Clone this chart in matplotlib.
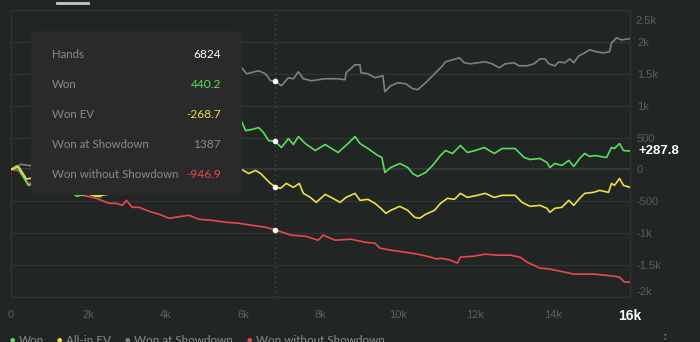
import matplotlib
matplotlib.use("Agg")
import matplotlib.pyplot as plt
from matplotlib.patches import FancyBboxPatch
from matplotlib.lines import Line2D

# ---- data (hands, cumulative winnings) ----
hands_sd = [0, 250, 500, 1000, 1500, 2000, 2500, 3000, 3500, 4000, 4500, 5000, 5500, 5900,
            5962, 6091, 6399, 6579, 6708, 6824, 6990, 7170, 7299, 7427, 7556, 7761, 8121, 8455,
            8635, 8661, 8892, 9021, 9046, 9226, 9406, 9612, 9663, 9817, 9997, 10203, 10383,
            10511, 10717, 10974, 11025, 11154, 11231, 11411, 11590, 11719, 11873, 12053, 12259,
            12439, 12619, 12773, 13004, 13133, 13338, 13518, 13672, 13801, 13904, 14058, 14161,
            14315, 14443, 14546, 14675, 14829, 14957, 15137, 15317, 15471, 15523, 15651, 15780, 16000]
won_sd = [0, 80, 60, 250, 380, 520, 650, 820, 950, 1100, 1230, 1380, 1500, 1560,
          1598, 1500, 1547, 1500, 1391, 1387, 1313, 1438, 1422, 1531, 1422, 1391, 1422, 1422,
          1406, 1516, 1641, 1641, 1516, 1500, 1438, 1469, 1219, 1313, 1359, 1344, 1266,
          1250, 1359, 1516, 1547, 1625, 1688, 1719, 1750, 1672, 1656, 1672, 1688,
          1656, 1594, 1656, 1672, 1625, 1625, 1656, 1734, 1734, 1656, 1625, 1688,
          1672, 1734, 1672, 1781, 1828, 1875, 1844, 1828, 1844, 1984, 2063, 2031, 2050]

hands_won = [0, 150, 300, 450, 700, 1000, 1300, 1700, 2000, 2300, 2600, 3000, 3500, 4000,
             4500, 5000, 5500, 5900, 5962, 6065, 6219, 6399, 6528, 6656, 6824, 6990, 7170,
             7299, 7427, 7607, 7864, 8121, 8455, 8712, 8892, 9021, 9226, 9483, 9586, 9663,
             9817, 10049, 10254, 10383, 10511, 10717, 10897, 11000, 11102, 11231, 11411,
             11616, 11796, 12002, 12233, 12490, 12696, 13030, 13261, 13415, 13672, 13852,
             13929, 14058, 14238, 14418, 14546, 14700, 14829, 14957, 15086, 15394, 15523,
             15600, 15728, 15831, 16000]
won = [0, 60, -100, -250, -200, -300, -250, -420, -380, -430, -300, -100, 100, 250,
       350, 500, 620, 700, 750, 609, 625, 656, 578, 453, 440.2, 344, 484,
       391, 516, 406, 297, 391, 266, 406, 516, 406, 328, 219, 188, -47,
       31, 94, 31, -63, -109, -47, 63, 141, 219, 297, 250,
       375, 266, 297, 344, 250, 328, 328, 188, 156, 172, 109,
       31, 94, 63, 141, 47, 172, 250, 203, 219, 188, 344,
       328, 406, 297, 287.8]

hands_ev = [0, 200, 400, 700, 1000, 1400, 1800, 2200, 2600, 3000, 3500, 4000, 4500, 5000,
            5500, 5900, 5962, 6142, 6322, 6451, 6579, 6708, 6824, 6965, 7119, 7299, 7453,
            7556, 7736, 7890, 8121, 8275, 8507, 8661, 8892, 9021, 9226, 9406, 9560, 9689,
            9817, 10049, 10254, 10434, 10563, 10717, 10948, 11102, 11282, 11462, 11616,
            11796, 12053, 12259, 12490, 12696, 13030, 13210, 13415, 13672, 13852, 13929,
            14058, 14238, 14418, 14546, 14700, 14829, 15060, 15214, 15446, 15523, 15600,
            15728, 15831, 16000]
won_ev = [0, 40, -150, -120, -200, -250, -350, -420, -380, -330, -280, -200, -150, -80,
          -30, 10, 0, -63, -16, -63, -141, -219, -268.7, -297, -219, -281, -219,
          -375, -438, -516, -391, -438, -516, -438, -375, -484, -469, -531, -609, -688,
          -641, -578, -641, -750, -766, -703, -641, -531, -453, -469, -375,
          -438, -406, -375, -438, -406, -406, -516, -578, -563, -609, -672,
          -609, -594, -484, -563, -453, -375, -359, -328, -359, -219, -250,
          -141, -250, -281]

hands_nsd = [0, 200, 450, 700, 1000, 1400, 1800, 2200, 2467, 2544, 2724, 2878, 2981, 3135,
             3315, 3572, 3829, 4086, 4420, 4600, 4857, 5191, 5551, 5885, 6219, 6579, 6824,
             7247, 7607, 7941, 8070, 8378, 8789, 9149, 9406, 9535, 9817, 10177, 10511, 10845,
             11025, 11102, 11359, 11539, 11616, 11976, 12259, 12567, 12901, 13158, 13338,
             13672, 13929, 14186, 14546, 14803, 15060, 15317, 15574, 15728, 15857, 16000]
won_nsd = [0, -20, -220, -200, -280, -350, -400, -450, -516, -531, -531, -563, -484, -594,
           -594, -656, -703, -766, -734, -719, -781, -797, -828, -844, -875, -906, -946.9,
           -1031, -1047, -1109, -1031, -1109, -1094, -1141, -1156, -1234, -1266, -1297, -1328, -1375,
           -1406, -1391, -1422, -1469, -1375, -1359, -1328, -1344, -1344, -1375, -1453,
           -1547, -1563, -1594, -1641, -1641, -1641, -1656, -1672, -1688, -1766, -1766]

hover_hand = 6824
tooltip_rows = [("Hands", "6824"), ("Won", "440.2"), ("Won EV", "-268.7"),
                ("Won at Showdown", "1387"), ("Won without Showdown", "-946.9")]
y_ticks = [-2000, -1500, -1000, -500, 0, 500, 1000, 1500, 2000, 2500]
y_labels = ["-2k", "-1.5k", "-1k", "-500", "0", "500", "1k", "1.5k", "2k", "2.5k"]
x_ticks = [0, 2000, 4000, 6000, 8000, 10000, 12000, 14000, 16000]
x_labels = ["0", "2k", "4k", "6k", "8k", "10k", "12k", "14k", "16k"]
legend_names = ["Won", "All-in EV", "Won at Showdown", "Won without Showdown"]

BG = "#212524"
GRID = "#303534"
C_WON = "#58e158"
C_EV = "#ede045"
C_SD = "#808080"
C_NSD = "#e64a4a"
TXT = "#5b605f"

W, H = 700, 342
fig = plt.figure(figsize=(W / 100, H / 100), dpi=100, facecolor=BG)
ax = fig.add_axes([11 / W, 1 - 297 / H, 619 / W, 287 / H])
ax.set_facecolor(BG)

ax.plot(hands_sd, won_sd, color=C_SD, lw=1.2, zorder=3)
ax.plot(hands_won, won, color=C_WON, lw=1.2, zorder=4)
ax.plot(hands_ev, won_ev, color=C_EV, lw=1.2, zorder=4)
ax.plot(hands_nsd, won_nsd, color=C_NSD, lw=1.2, zorder=3)

# hover markers
for hs, vs in [(hands_sd, won_sd), (hands_won, won), (hands_ev, won_ev), (hands_nsd, won_nsd)]:
    v = vs[hs.index(hover_hand)]
    ax.plot([hover_hand], [v], "o", color="white", ms=4, mec="none", zorder=6)
ax.axvline(hover_hand, color="#4a4f4e", lw=1, ls=(0, (1, 2.5)), zorder=2)

ax.set_xlim(0, 16000)
ax.set_ylim(-2000, 2500)
ax.set_yticks(y_ticks)
ax.set_yticklabels(y_labels)
ax.set_xticks(x_ticks)
ax.set_xticklabels(x_labels)
ax.yaxis.tick_right()
ax.tick_params(length=0, colors=TXT, labelsize=8)
ax.tick_params(axis="y", pad=5)
ax.tick_params(axis="x", pad=9)
for lab in ax.get_xticklabels() + ax.get_yticklabels():
    lab.set_fontfamily("Liberation Sans")
ax.grid(axis="y", color=GRID, lw=1)
ax.axhline(0, color="#3d4241", lw=1.3, zorder=1)
for s in ax.spines.values():
    s.set_color(GRID)
    s.set_linewidth(1)

ytk = ax.yaxis.get_major_ticks()
ytk[-1].label2.set_visible(False)
ytk[0].label2.set_va("bottom")
ax.annotate("2.5k", xy=(1, 2500), xycoords=("axes fraction", "data"),
            xytext=(5, -11), textcoords="offset pixels", va="center", ha="left",
            color=TXT, fontsize=8, family="Liberation Sans")
xtk = ax.xaxis.get_major_ticks()
xtk[-1].label1.set_color("white")
xtk[-1].label1.set_fontweight("bold")
xtk[-1].label1.set_fontsize(10)

# last value label
ax.annotate("+287.8", xy=(1, won[-1]), xycoords=("axes fraction", "data"),
            xytext=(6, 0), textcoords="offset points", va="center", ha="left",
            color="white", fontsize=9.5, fontweight="bold", family="Liberation Sans")

# tooltip box
def fx(px):
    return px / W

def fy(py):
    return 1 - py / H

box = FancyBboxPatch((fx(31), fy(195)), fx(211), 164 / H,
                     boxstyle="round,pad=0,rounding_size=0.008",
                     transform=fig.transFigure, facecolor="#2a2a2a", edgecolor="none", zorder=10)
fig.add_artist(box)
val_colors = ["white", C_WON, C_EV, "#8a8a8a", C_NSD]
for i, (name, val) in enumerate(tooltip_rows):
    y = fy(54 + 30.2 * i)
    fig.text(fx(52), y, name, color="#8a8a8a", fontsize=8.3, va="center", ha="left",
             family="Lato", zorder=11)
    fig.text(fx(221), y, val, color=val_colors[i], fontsize=8.6, va="center", ha="right",
             family="Lato", zorder=11)

# top tab underline
fig.add_artist(Line2D([fx(57), fx(88)], [fy(3), fy(3)], color="#c8c8c8", lw=2,
                      transform=fig.transFigure))

# legend, cut off at bottom like the reference
leg_x = [12, 59, 127, 249]
leg_c = [C_WON, C_EV, C_SD, C_NSD]
for lx, name, c in zip(leg_x, legend_names, leg_c):
    fig.text(fx(lx), fy(340), "\u25cf", color=c, fontsize=4.5, va="center", ha="center")
    fig.text(fx(lx + 7), fy(340), name, color="#8a8f8e", fontsize=8.4, va="center",
             ha="left", family="Lato")
fig.text(fx(665), fy(339), "\u22ee", color="#9a9a9a", fontsize=9, va="center", ha="center")

fig.savefig("out.png", dpi=100, facecolor=BG)
